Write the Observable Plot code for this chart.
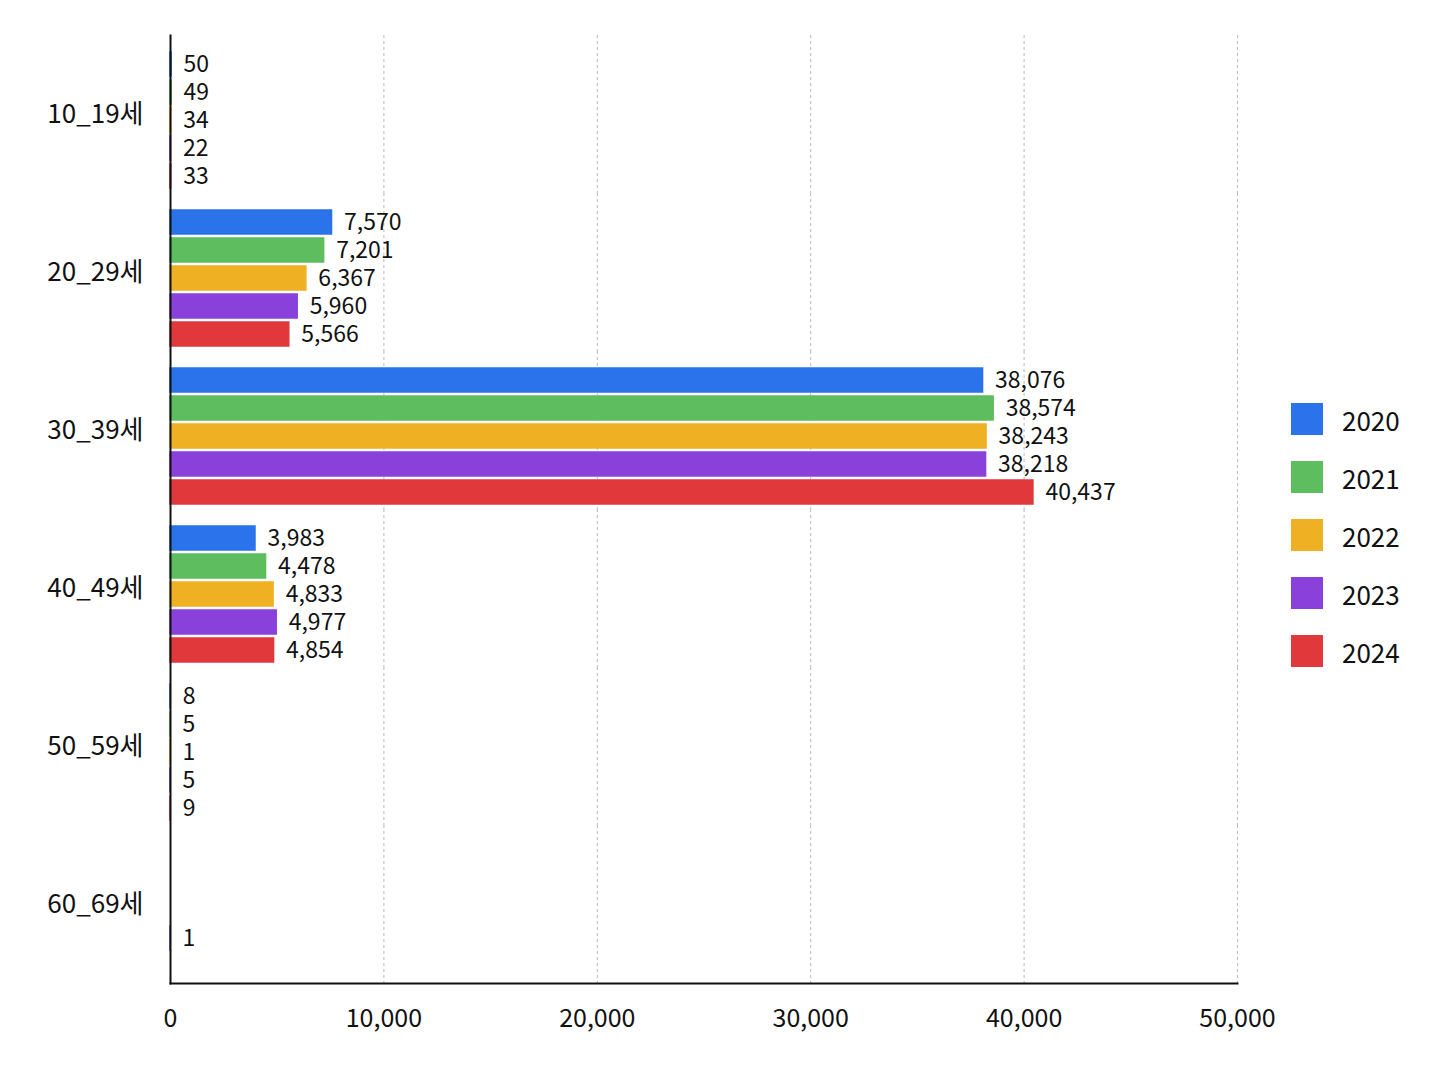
<!DOCTYPE html>
<html><head><meta charset="utf-8">
<script src="https://cdn.jsdelivr.net/npm/d3@7"></script>
<script src="https://cdn.jsdelivr.net/npm/@observablehq/plot@0.6"></script>
<style>
body{margin:0;background:#fff;font-family:"Noto Sans CJK KR","Noto Sans",sans-serif;}
#wrap{position:relative;width:1448px;height:1086px;}
#legend{position:absolute;left:1291px;top:403px;}
.item{display:flex;align-items:center;height:32px;margin-bottom:26px;}
.sw{width:32px;height:32px;margin-right:19px;}
.lab{font-size:26px;color:#111;}
</style></head><body>
<div id="wrap"><div id="legend"></div></div>
<script>
const ages = ["10_19세","20_29세","30_39세","40_49세","50_59세","60_69세"];
const years = ["2020","2021","2022","2023","2024"];
const v2020 = [50, 7570, 38076, 3983, 8, null];
const v2021 = [49, 7201, 38574, 4478, 5, null];
const v2022 = [34, 6367, 38243, 4833, 1, null];
const v2023 = [22, 5960, 38218, 4977, 5, 1];
const v2024 = [33, 5566, 40437, 4854, 9, null];
const xTicks = [0, 10000, 20000, 30000, 40000, 50000];
const colors = ["#2a73ea","#5dbd5f","#f0b023","#8a40da","#e0383b"];

const series = [v2020, v2021, v2022, v2023, v2024];
const data = [];
ages.forEach((a, i) => years.forEach((y, j) => {
  const v = series[j][i];
  if (v != null) data.push({age: a, year: y, value: v});
}));

const fmt = d3.format(",");
const chart = Plot.plot({
  width: 1448, height: 1086,
  marginLeft: 170, marginRight: 211, marginTop: 35, marginBottom: 103,
  style: {fontFamily: '"Noto Sans CJK KR","Noto Sans",sans-serif', color: "#111", background: "#fff"},
  x: {domain: [0, 50000], ticks: xTicks, label: null},
  y: {domain: years, axis: null, paddingInner: 0.13, paddingOuter: 0.3, align: 0.8},
  fy: {domain: ages, padding: 0, label: null},
  color: {domain: years, range: colors},
  marks: [
    Plot.gridX(xTicks.slice(1), {stroke: "#bbb", strokeOpacity: 1, strokeDasharray: "3,3", strokeWidth: 1}),
    Plot.barX(data, {x: "value", y: "year", fy: "age", fill: "year", stroke: "year", strokeWidth: 1.5}),
    Plot.text(data, {x: "value", y: "year", fy: "age", text: d => fmt(d.value), textAnchor: "start", dx: 12, fontSize: 23, fill: "#111"}),
    Plot.axisX(xTicks, {tickSize: 0, tickPadding: 26, fontSize: 25, tickFormat: fmt, label: null, fill: "#111"}),
    Plot.axisFy({anchor: "left", tickSize: 0, tickPadding: 27, fontSize: 26, label: null, fill: "#111"}),
    Plot.frame({anchor: "bottom", facet: "super", stroke: "#111", strokeWidth: 2}),
    Plot.frame({anchor: "left", facet: "super", stroke: "#111", strokeWidth: 2})
  ]
});
document.getElementById("wrap").prepend(chart);

const lg = document.getElementById("legend");
years.forEach((y, i) => {
  const it = document.createElement("div"); it.className = "item";
  const sw = document.createElement("div"); sw.className = "sw"; sw.style.background = colors[i];
  const lb = document.createElement("span"); lb.className = "lab"; lb.textContent = y;
  it.append(sw, lb); lg.append(it);
});
</script></body></html>
